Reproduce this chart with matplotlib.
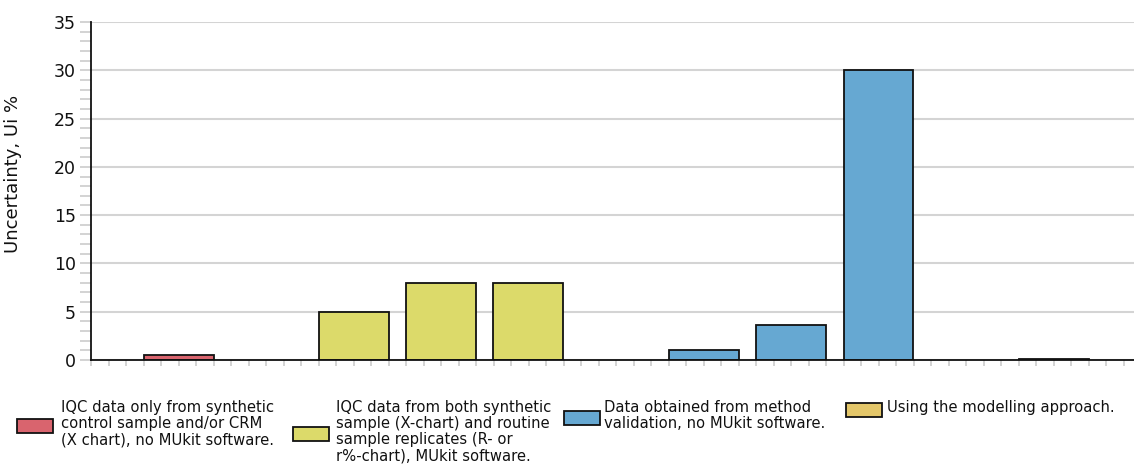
import matplotlib
matplotlib.use("Agg")
import matplotlib.pyplot as plt
from matplotlib.patches import Rectangle
from matplotlib.ticker import MultipleLocator, NullFormatter

plt.rcParams['font.family'] = ['DejaVu Sans']

# bar slots along the x axis (empty slots separate the groups)
synth_pos = [1]
synth_vals = [0.5]
both_pos = [3, 4, 5]
both_vals = [5, 8, 8]
valid_pos = [7, 8, 9]
valid_vals = [1.0, 3.6, 30]
model_pos = [11]
model_vals = [0.15]

labels = [
    "IQC data only from synthetic\ncontrol sample and/or CRM\n(X chart), no MUkit software.",
    "IQC data from both synthetic\nsample (X-chart) and routine\nsample replicates (R- or\nr%-chart), MUkit software.",
    "Data obtained from method\nvalidation, no MUkit software.",
    "Using the modelling approach.",
]
colors = ["#D9646E", "#DCDA6A", "#66A8D2", "#E4C76A"]

W, H = 1134, 470
fig = plt.figure(figsize=(W / 100, H / 100), dpi=100)
ax = fig.add_axes([91 / W, (H - 360) / H, (W - 91) / W, (360 - 22) / H])

series = [(synth_pos, synth_vals), (both_pos, both_vals),
          (valid_pos, valid_vals), (model_pos, model_vals)]
for (pos, vals), c in zip(series, colors):
    ax.bar(pos, vals, width=0.8, color=c, edgecolor="#111111",
           linewidth=1.3, zorder=3)

ax.set_xlim(0, (W - 91) / 87.5)
ax.set_ylim(0, 35)
ax.yaxis.set_major_locator(MultipleLocator(5))
ax.yaxis.set_minor_locator(MultipleLocator(1))
ax.xaxis.set_major_locator(MultipleLocator(0.2))
ax.xaxis.set_major_formatter(NullFormatter())
ax.grid(axis='y', which='major', color='#d4d4d4', linewidth=1.5, zorder=0)
ax.set_axisbelow(True)

for s in ['top', 'right']:
    ax.spines[s].set_visible(False)
for s in ['left', 'bottom']:
    ax.spines[s].set_color('#111111')
    ax.spines[s].set_linewidth(1.3)
    ax.spines[s].set_zorder(4)

ax.tick_params(axis='y', which='both', length=8, width=1.2, color='#cccccc',
               labelsize=12.5, pad=3, labelcolor='#111111')
ax.tick_params(axis='x', which='major', length=4.5, width=1.2, color='#cccccc')
ax.set_ylabel("Uncertainty, Ui %", fontsize=13, color='#111111')
ax.yaxis.set_label_coords(-0.066, 0.55)

# legend along the bottom, text blocks top-aligned
patch_x = [17, 293, 564, 846]
text_x = [61, 336, 604, 887]
text_top = H - 400
for px, tx, lab, c in zip(patch_x, text_x, labels, colors):
    n = lab.count("\n") + 1
    cy = H - (402 + 8 * n)
    fig.patches.append(Rectangle((px / W, (cy - 7) / H), 36 / W, 14 / H,
                                 transform=fig.transFigure, facecolor=c,
                                 edgecolor='#111111', linewidth=1.3))
    fig.text(tx / W, text_top / H, lab, fontsize=10.6,
             va='top', ha='left', color='#111111', linespacing=1.09)

fig.savefig("out.png", dpi=100, facecolor='white')
